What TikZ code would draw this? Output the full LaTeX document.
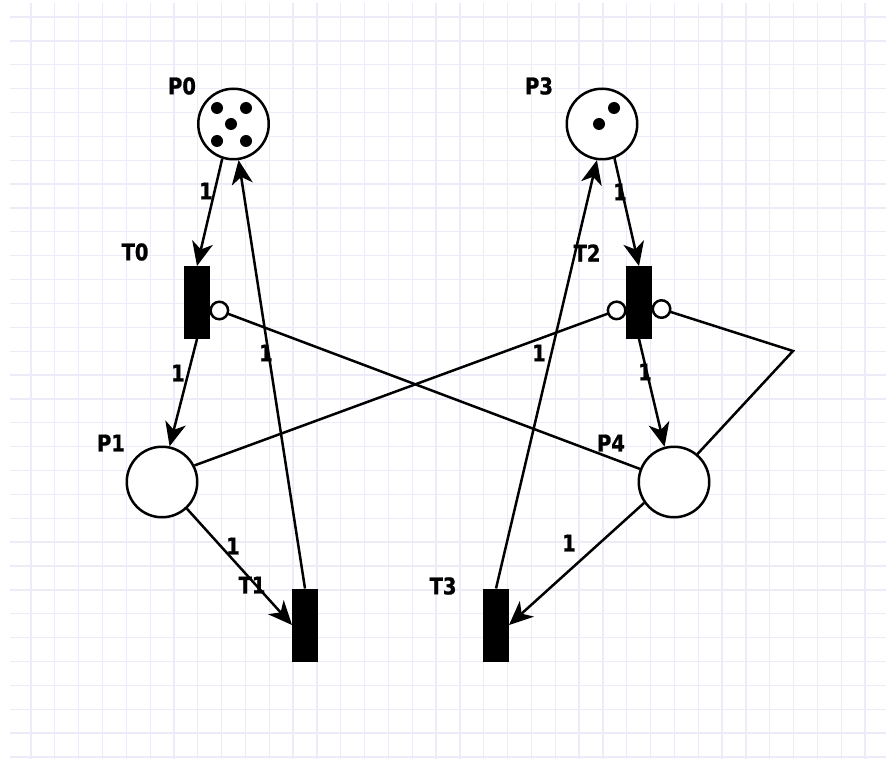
\documentclass[tikz,border=0pt]{standalone}
\usepackage{fontspec}
\newfontfamily\netfont[FakeStretch=0.85, FakeBold=1]{DejaVu Sans}
\usepackage{tikz}
\usetikzlibrary{
	arrows.meta,
	positioning
}
\definecolor{gridcol}{RGB}{236,236,248}
\tikzstyle{every picture}+=[>={Stealth[length=24pt,width=21pt,inset=7pt]}]
\tikzset{
	gridline/.style={gridcol, line width=1.3pt},
	place/.style={circle, draw, fill=white, line width=2.5pt, minimum size=70.5pt, inner sep=0pt},
	transition/.style={rectangle, draw, fill=black, line width=2.5pt, minimum width=23.5pt, minimum height=70.5pt, inner sep=0pt},
	arc/.style={->, line width=2.5pt},
	inhibitor/.style={-{Circle[length=20pt, fill=white]}, line width=2.5pt},
	netlabel/.style={font=\netfont\bfseries\fontsize{23}{27}\selectfont, inner sep=0pt}
}

\begin{document}
\begin{tikzpicture}[x=1pt, y=-1pt]
	\useasboundingbox (0,0) rectangle (886,759);
	\fill[white] (0,0) rectangle (886,759);

	% Grid
		\foreach \i in {0,1,...,35} {
			\draw[gridline] ({31+23.83*\i},3) -- ({31+23.83*\i},759);
		}
		\foreach \j in {0,1,...,31} {
			\draw[gridline] (10,{17+23.87*\j}) -- (886,{17+23.87*\j});
		}

	% Places
		\node[place] (p0) at (233.5,124) {};
		\node[place] (p3) at (602,124) {};
		\node[place] (p1) at (162,482) {};
		\node[place] (p4) at (674,482) {};
		\node[netlabel] (p0-name) at (182,86) {P0};
		\node[netlabel] (p3-name) at (539,86) {P3};
		\node[netlabel] (p1-name) at (111,443) {P1};
		\node[netlabel] (p4-name) at (611,443) {P4};

	% Transitions
		\node[transition] (t0) at (197,302.5) {};
		\node[transition] (t2) at (639,302.5) {};
		\node[transition] (t1) at (305,625) {};
		\node[transition] (t3) at (496,625) {};
		\node[netlabel] (t0-name) at (135,252) {T0};
		\node[netlabel] (t2-name) at (587,253) {T2};
		\node[netlabel] (t1-name) at (252,585) {T1};
		\node[netlabel] (t3-name) at (443,586) {T3};

	% Tokens
		\newcommand\drawtoken[1] {
			\fill (#1) circle (6);
		}
		\drawtoken{217,108}
		\drawtoken{246,108}
		\drawtoken{231,124}
		\drawtoken{217,141}
		\drawtoken{246,141}
		\drawtoken{614,108}
		\drawtoken{599,124}

	% Arcs
		\draw[arc] (p0.-108) -- (t0.north);
		\draw[arc] (t1.north) -- (p0.-82);
		\draw[arc] (t0.south) -- (p1.78);
		\draw[arc] (p1.-47) -- (t1.west);
		\draw[arc] (p3.-70) -- (t2.north);
		\draw[arc] (t2.south) -- (p4.105);
		\draw[arc] (p4.-145) -- (t3.east);
		\draw[arc] (t3.north) -- (p3.-98);

	% Inhibitor arcs
		\coordinate (bend) at (793,351);
		\draw[inhibitor] (p1.27) -- (t2.199);
		\draw[inhibitor] (p4.159) -- (t0.-19);
		\draw[inhibitor] (p4.50) -- (bend) -- (t2.-15);

	% Weights
		\node[netlabel] (w-p0-t0) at (206,191) {1};
		\node[netlabel] (w-t1-p0) at (266,353) {1};
		\node[netlabel] (w-t0-p1) at (178,373) {1};
		\node[netlabel] (w-p1-t1) at (233,546) {1};
		\node[netlabel] (w-p3-t2) at (620,192) {1};
		\node[netlabel] (w-t2-p4) at (645,372) {1};
		\node[netlabel] (w-p4-t3) at (569,543) {1};
		\node[netlabel] (w-t3-p3) at (539,353) {1};
\end{tikzpicture}
\end{document}
